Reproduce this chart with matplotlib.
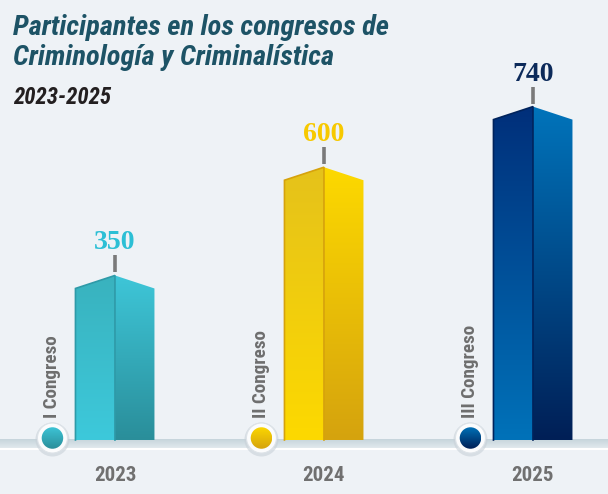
import numpy as np
import matplotlib
matplotlib.use("Agg")
import matplotlib.pyplot as plt
from matplotlib.patches import Polygon, Ellipse
from matplotlib.colors import LinearSegmentedColormap

# data
YEARS = ["2023", "2024", "2025"]
CONGRESOS = ["I Congreso", "II Congreso", "III Congreso"]
VALUES = [350, 600, 740]

# per bar: left face (top, bottom), right face (top, bottom), edge, value text colour
LEFT_TOP = ["#39b2be", "#e5c21b", "#002f7a"]
LEFT_BOT = ["#3dc9db", "#fdd900", "#0072b9"]
RIGHT_TOP = ["#3ec6d8", "#fdd900", "#0074bb"]
RIGHT_BOT = ["#2a8e9a", "#d5a30e", "#001f56"]
EDGE = ["#2e9aa8", "#d6a20c", "#00235c"]
VAL_COLOR = ["#2cbfd5", "#f7c900", "#0c2a5a"]

BG = "#eef2f6"
NARROW = ["Roboto Condensed", "Liberation Sans Narrow", "Liberation Sans", "DejaVu Sans"]

W, H = 608, 494
X0, X1 = -0.55, 2.359
Y0, Y1 = -124.7, 1016.2
SX = W / (X1 - X0)   # px per category unit
SY = H / (Y1 - Y0)   # px per value unit

HALF = 39.5 / SX
PEAK = 13 / SY

fig = plt.figure(figsize=(W / 100, H / 100), dpi=100, facecolor=BG)
ax = fig.add_axes([0, 0, 1, 1])
ax.set_facecolor(BG)
ax.axis("off")


def grad(ax, xy, c_top, c_bot, z=2):
    xy = np.asarray(xy)
    poly = Polygon(xy, closed=True, facecolor="none", edgecolor="none")
    ax.add_patch(poly)
    cm = LinearSegmentedColormap.from_list("g", [c_bot, c_top])
    g = np.linspace(0, 1, 256).reshape(-1, 1)
    im = ax.imshow(g, extent=[xy[:, 0].min(), xy[:, 0].max(), xy[:, 1].min(), xy[:, 1].max()],
                   origin="lower", cmap=cm, aspect="auto", interpolation="bicubic", zorder=z)
    im.set_clip_path(poly)
    return poly


# baseline band
band_h = 9 / SY
cm = LinearSegmentedColormap.from_list("b", ["#e4ebef", "#c6d5dc"])
ax.imshow(np.linspace(0, 1, 64).reshape(-1, 1), extent=[X0, X1, -band_h, 0], origin="lower",
          cmap=cm, aspect="auto", zorder=1)
ax.axhline(-band_h, color="white", lw=1.5, zorder=1)

for i, v in enumerate(VALUES):
    xl, xr = i - HALF, i + HALF
    left = [(xl, 0), (i, 0), (i, v + PEAK), (xl, v)]
    right = [(i, 0), (xr, 0), (xr, v), (i, v + PEAK)]
    grad(ax, left, LEFT_TOP[i], LEFT_BOT[i])
    grad(ax, right, RIGHT_TOP[i], RIGHT_BOT[i])
    ax.plot([xl, xl, i, i], [0, v, v + PEAK, 0], color=EDGE[i], lw=1.2, zorder=3,
            solid_joinstyle="miter")

    # pointer and value
    ax.plot([i, i], [v + PEAK + 3 / SY, v + PEAK + 20 / SY], color="#7a7a7a", lw=2.6,
            zorder=3, solid_capstyle="butt")
    ax.text(i, v + PEAK + 26 / SY, str(v), ha="center", va="baseline", fontsize=20,
            fontweight="bold", family=["Liberation Serif", "DejaVu Serif"], color=VAL_COLOR[i])

    # marker circle on the baseline
    cx, cy = i - 62.5 / SX, 2 / SY
    ax.add_patch(Ellipse((cx, cy - 1.5 / SY), 34 / SX, 34 / SY, facecolor="#c9d1d8",
                         alpha=0.6, edgecolor="none", zorder=4))
    ax.add_patch(Ellipse((cx, cy), 30 / SX, 30 / SY, facecolor="#fbfcfd",
                         edgecolor="#dde3e8", lw=0.8, zorder=5))
    inner = Ellipse((cx, cy), 21.5 / SX, 21.5 / SY, facecolor="none", edgecolor="none", zorder=6)
    ax.add_patch(inner)
    cmc = LinearSegmentedColormap.from_list("c", [RIGHT_BOT[i], RIGHT_TOP[i]])
    im = ax.imshow(np.linspace(0, 1, 64).reshape(-1, 1),
                   extent=[cx - 11 / SX, cx + 11 / SX, cy - 11 / SY, cy + 11 / SY],
                   origin="lower", cmap=cmc, aspect="auto", zorder=6)
    im.set_clip_path(inner)

    ax.text(cx, 22 / SY, CONGRESOS[i], rotation=90, ha="center", va="bottom", fontsize=13.8,
            fontweight="bold", family=NARROW, color="#6e6e6e", zorder=7)
    ax.text(i, -41 / SY, YEARS[i], ha="center", va="baseline", fontsize=15,
            fontweight="bold", family=NARROW, color="#707070")

ax.set_xlim(X0, X1)
ax.set_ylim(Y0, Y1)

TITLE_C = "#1d5366"
fig.text(13 / W, 1 - 35 / H, "Participantes en los congresos de", fontsize=20.5,
         fontweight="bold", style="italic", family=NARROW, color=TITLE_C, va="baseline")
fig.text(13 / W, 1 - 65 / H, "Criminología y Criminalística", fontsize=20.5,
         fontweight="bold", style="italic", family=NARROW, color=TITLE_C, va="baseline")
fig.text(13 / W, 1 - 104 / H, "2023-2025", fontsize=16.5,
         fontweight="bold", style="italic", family=NARROW, color="#231f20", va="baseline")

fig.savefig("out.png", dpi=100, facecolor=BG)
